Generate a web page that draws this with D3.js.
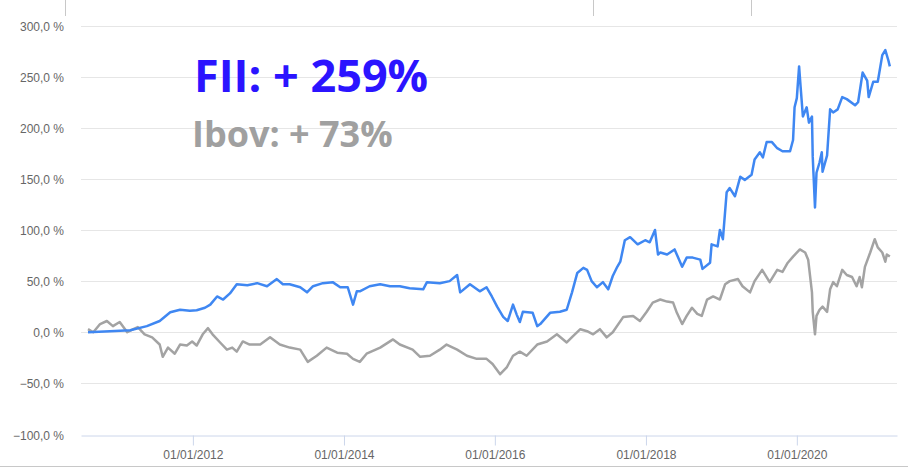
<!DOCTYPE html>
<html>
<head>
<meta charset="utf-8">
<script src="https://cdn.jsdelivr.net/npm/d3@7"></script>
<style>
  html, body { margin: 0; padding: 0; background: #fff; }
  svg { display: block; }
</style>
</head>
<body>
<svg id="chart"></svg>
<script>
// datas em anos decimais (2012.5 = meio de 2012), valores em % acumulado
var fiiDates = [2010.61,2010.90,2011.17,2011.39,2011.56,2011.70,2011.83,2011.96,2012.05,2012.16,
  2012.23,2012.32,2012.40,2012.49,2012.58,2012.72,2012.85,2012.98,2013.11,2013.19,
  2013.28,2013.42,2013.51,2013.59,2013.72,2013.85,2013.95,2014.05,2014.12,2014.17,
  2014.21,2014.34,2014.48,2014.61,2014.74,2014.87,2015.05,2015.10,2015.27,2015.40,
  2015.50,2015.54,2015.67,2015.80,2015.89,2015.96,2016.03,2016.11,2016.17,2016.24,
  2016.29,2016.33,2016.37,2016.50,2016.56,2016.60,2016.73,2016.86,2016.95,2017.02,
  2017.09,2017.17,2017.22,2017.28,2017.35,2017.43,2017.50,2017.56,2017.62,2017.66,
  2017.72,2017.79,2017.89,2017.99,2018.05,2018.12,2018.16,2018.19,2018.28,2018.38,
  2018.48,2018.54,2018.62,2018.72,2018.75,2018.85,2018.87,2018.95,2018.98,2019.02,
  2019.07,2019.11,2019.18,2019.25,2019.31,2019.40,2019.44,2019.51,2019.55,2019.60,
  2019.67,2019.74,2019.81,2019.91,2019.95,2019.97,2020.00,2020.03,2020.05,2020.08,
  2020.13,2020.16,2020.20,2020.21,2020.24,2020.26,2020.30,2020.33,2020.34,2020.40,
  2020.44,2020.48,2020.54,2020.60,2020.66,2020.77,2020.81,2020.87,2020.93,2020.95,
  2021.01,2021.07,2021.13,2021.17,2021.21,2021.23];
var fiiValues = [0,1,2,6,11,19.5,22,21,21.5,24,
  27,35,32,38,47,46,48,45,52,47,
  47,44,39,45,48,49,44,44,27,40,
  40,45,47,45,45,43,42,49,48,50,
  56,39,47,40,44,35,25,15,11,27,
  17,10,20,19,6,8,19,20,22,39,
  58,63,61,50,44,49,42,55,64,69,
  90,93,86,90,88,100,76,78,76,81,
  64,73,73,71,62,68,86,84,100,91,
  137,141,133,152,149,154,169,176,171,186,
  186,180,177,177,188,220,229,260,240,211,
  220,205,211,172,122,156,166,176,157,173,
  218,215,218,230,228,222,225,254,246,230,
  245,245,271,276,266,260];

var ibovDates = [2010.61,2010.68,2010.77,2010.86,2010.94,2011.03,2011.13,2011.21,2011.27,2011.36,
  2011.46,2011.56,2011.60,2011.67,2011.76,2011.83,2011.92,2011.99,2012.05,2012.13,
  2012.20,2012.26,2012.36,2012.45,2012.52,2012.58,2012.66,2012.75,2012.89,2013.02,
  2013.15,2013.28,2013.42,2013.52,2013.64,2013.77,2013.91,2014.04,2014.12,2014.21,
  2014.30,2014.48,2014.65,2014.74,2014.91,2015.01,2015.14,2015.27,2015.36,2015.50,
  2015.63,2015.76,2015.89,2015.97,2016.07,2016.16,2016.24,2016.33,2016.42,2016.56,
  2016.69,2016.82,2016.95,2017.03,2017.13,2017.22,2017.30,2017.39,2017.48,2017.56,
  2017.70,2017.83,2017.92,2018.01,2018.09,2018.19,2018.28,2018.36,2018.41,2018.48,
  2018.54,2018.61,2018.68,2018.74,2018.81,2018.89,2018.98,2019.05,2019.11,2019.22,
  2019.28,2019.38,2019.44,2019.54,2019.64,2019.74,2019.81,2019.88,2019.95,2020.04,
  2020.11,2020.15,2020.20,2020.21,2020.24,2020.26,2020.30,2020.34,2020.40,2020.44,
  2020.48,2020.53,2020.60,2020.66,2020.73,2020.79,2020.83,2020.86,2020.90,2020.97,
  2021.03,2021.07,2021.13,2021.17,2021.19,2021.23];
var ibovValues = [3,0,8,11,6,10,0,3,5,-2,
  -5,-12,-24,-15,-21,-12,-13,-9,-13,-2,
  4,-2,-10,-17,-15,-19,-9,-12,-12,-5,
  -12,-15,-17,-29,-23,-15,-20,-21,-26,-29,
  -21,-15,-7,-12,-17,-24,-23,-17,-12,-17,
  -23,-26,-26,-31,-41,-34,-23,-19,-23,-12,
  -9,-2,-10,-4,3,1,-2,3,-5,0,
  15,16,11,20,29,32,30,29,19,8,
  16,24,18,16,32,35,32,47,50,52,
  45,39,50,61,49,61,59,68,74,81,
  78,71,39,20,-2,16,22,25,20,42,
  49,45,61,56,54,45,54,44,64,78,
  91,83,78,69,76,74];

var yTicks = [-100, -50, 0, 50, 100, 150, 200, 250, 300];
var xTicks = [2012, 2014, 2016, 2018, 2020];

var width = 908, height = 468;
var svg = d3.select('#chart').attr('width', width).attr('height', height);

function toDate(t) {
  var y = Math.floor(t);
  var start = Date.UTC(y, 0, 1), end = Date.UTC(y + 1, 0, 1);
  return new Date(start + (t - y) * (end - start));
}

var xScale = d3.scaleUtc()
  .domain([toDate(2010.517), toDate(2021.325)])
  .range([81, 897]);

var yScale = d3.scaleLinear()
  .domain([-100, 300])
  .range([434.5, 25.5]);

var fmtPct = function (v) { return d3.format('.1f')(v).replace('.', ',') + ' %'; };
var fmtDate = d3.utcFormat('%d/%m/%Y');

// linhas de grade
svg.append('g')
  .selectAll('line')
  .data(yTicks.filter(function (d) { return d !== -100; }))
  .enter().append('line')
  .attr('x1', 81).attr('x2', 897)
  .attr('y1', function (d) { return Math.round(yScale(d)) + 0.5; })
  .attr('y2', function (d) { return Math.round(yScale(d)) + 0.5; })
  .attr('stroke', '#e6e6e6');

// eixo Y (so os textos)
svg.append('g')
  .selectAll('text')
  .data(yTicks)
  .enter().append('text')
  .attr('x', 64)
  .attr('y', function (d) { return yScale(d) + 5; })
  .attr('text-anchor', 'end')
  .attr('font-family', 'Liberation Sans, Arial, sans-serif')
  .attr('font-size', 12)
  .attr('fill', '#666')
  .text(fmtPct);

// eixo X
var eixoX = d3.axisBottom(xScale)
  .tickValues(xTicks.map(toDate))
  .tickFormat(fmtDate)
  .tickSizeInner(10)
  .tickSizeOuter(0)
  .tickPadding(5);

var gx = svg.append('g')
  .attr('transform', 'translate(0,' + (Math.round(yScale(-100)) + 0.5) + ')')
  .call(eixoX);
gx.select('.domain').attr('stroke', '#ccd6eb');
gx.selectAll('.tick line').attr('stroke', '#ccd6eb');
gx.selectAll('.tick text')
  .attr('font-family', 'Liberation Sans, Arial, sans-serif')
  .attr('font-size', 12)
  .attr('fill', '#666');

// series
var line = d3.line()
  .x(function (d) { return xScale(d.date); })
  .y(function (d) { return yScale(d.value); });

var ibov = ibovDates.map(function (t, i) { return { date: toDate(t), value: ibovValues[i] }; });
var fii = fiiDates.map(function (t, i) { return { date: toDate(t), value: fiiValues[i] }; });

svg.append('path')
  .datum(ibov)
  .attr('d', line)
  .attr('fill', 'none')
  .attr('stroke', '#a3a3a3')
  .attr('stroke-width', 2.5)
  .attr('stroke-linejoin', 'round');

svg.append('path')
  .datum(fii)
  .attr('d', line)
  .attr('fill', 'none')
  .attr('stroke', '#3f87f2')
  .attr('stroke-width', 2.5)
  .attr('stroke-linejoin', 'round');

// textos de destaque
svg.append('text')
  .attr('x', 194).attr('y', 92)
  .attr('font-family', 'Open Sans, sans-serif')
  .attr('font-weight', 700)
  .attr('font-size', 45)
  .attr('fill', '#2b14ff')
  .text('FII: + 259%');

svg.append('text')
  .attr('x', 192).attr('y', 147)
  .attr('font-family', 'Open Sans, sans-serif')
  .attr('font-weight', 700)
  .attr('font-size', 36)
  .attr('fill', '#a0a0a0')
  .text('Ibov: + 73%');

// bordas do recorte
[65, 593, 751].forEach(function (x) {
  svg.append('line')
    .attr('x1', x + 0.5).attr('x2', x + 0.5)
    .attr('y1', 0).attr('y2', 16)
    .attr('stroke', '#c8c8c8');
});
svg.append('line')
  .attr('x1', 0).attr('x2', width)
  .attr('y1', 466.5).attr('y2', 466.5)
  .attr('stroke', '#c8c8c8');
</script>
</body>
</html>
